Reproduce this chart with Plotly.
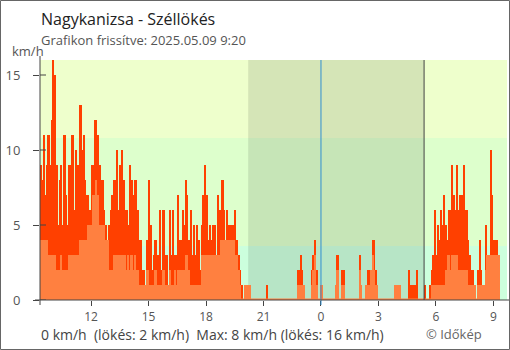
import plotly.graph_objects as go
import pandas as pd

# ---- data (5-minute slots starting 2025-05-08 09:20) ----
start_time = "2025-05-08 09:20"
end_time = "2025-05-09 09:42:40"
slot_minutes = 5

gust = [
    9, 8, 11, 7, 9, 11, 9, 12, 16, 15,
    9, 5, 8, 9, 5, 11, 7, 5, 9, 9,
    11, 6, 10, 9, 9, 13, 10, 11, 8, 7,
    7, 6, 9, 9, 12, 12, 11, 9, 8, 8,
    6, 5, 4, 5, 6, 7, 8, 8, 10, 6,
    9, 10, 8, 6, 6, 5, 9, 8, 7, 8,
    8, 6, 4, 4, 2, 2, 1, 4, 8, 5,
    2, 3, 4, 3, 3, 6, 2, 6, 3, 3,
    1, 6, 3, 6, 3, 3, 7, 4, 4, 6,
    5, 8, 7, 4, 6, 3, 5, 3, 5, 4,
    2, 5, 7, 9, 7, 4, 5, 4, 5, 5,
    3, 7, 6, 6, 8, 6, 4, 6, 5, 5,
    5, 5, 6, 4, 3, 2, 1, 0, 1, 1,
    1, 1, 0, 0, 0, 0, 0, 0, 0, 0,
    0, 0, 1, 0, 0, 0, 0, 0, 0, 0,
    0, 0, 0, 0, 0, 0, 0, 0, 0, 0,
    0, 2, 2, 3, 2, 1, 0, 0, 0, 0,
    2, 3, 4, 2, 0, 0, 1, 0, 0, 0,
    0, 0, 0, 0, 0, 1, 3, 0, 0, 2,
    2, 0, 0, 0, 0, 0, 0, 0, 0, 0,
    3, 1, 0, 0, 1, 2, 2, 2, 4, 4,
    2, 1, 0, 0, 0, 0, 0, 0, 0, 0,
    0, 0, 1, 1, 1, 1, 0, 0, 0, 0,
    0, 2, 1, 1, 1, 1, 2, 0, 0, 0,
    0, 1, 0, 0, 1, 2, 3, 6, 3, 5,
    4, 6, 5, 7, 5, 4, 6, 6, 9, 7,
    6, 9, 6, 7, 7, 9, 6, 6, 4, 3,
    2, 2, 1, 0, 2, 4, 2, 1, 1, 5,
    3, 3, 10, 7, 4, 4, 4, 3,
]

wind = [
    4, 4, 4, 4, 4, 3, 3, 3, 3, 3,
    2, 2, 2, 3, 2, 2, 2, 2, 3, 3,
    3, 3, 3, 3, 3, 4, 4, 4, 4, 4,
    5, 5, 5, 7, 7, 8, 7, 5, 5, 5,
    5, 4, 4, 2, 2, 2, 3, 3, 3, 3,
    3, 3, 3, 3, 2, 3, 2, 3, 2, 3,
    2, 2, 1, 1, 1, 1, 1, 2, 1, 1,
    1, 1, 2, 1, 1, 1, 1, 2, 1, 1,
    1, 2, 1, 1, 2, 1, 2, 2, 2, 2,
    2, 3, 3, 2, 1, 1, 1, 1, 1, 1,
    1, 3, 3, 3, 3, 3, 3, 3, 3, 3,
    3, 3, 3, 4, 4, 4, 4, 4, 4, 4,
    4, 4, 3, 3, 2, 1, 0, 0, 1, 1,
    1, 1, 0, 0, 0, 0, 0, 0, 0, 0,
    0, 0, 0, 0, 0, 0, 0, 0, 0, 0,
    0, 0, 0, 0, 0, 0, 0, 0, 0, 0,
    0, 1, 1, 1, 1, 1, 0, 0, 0, 0,
    1, 2, 3, 1, 0, 0, 1, 0, 0, 0,
    0, 0, 0, 0, 0, 1, 2, 0, 0, 1,
    1, 0, 0, 0, 0, 0, 0, 0, 0, 0,
    2, 1, 0, 0, 1, 1, 1, 2, 3, 2,
    1, 1, 0, 0, 0, 0, 0, 0, 0, 0,
    0, 0, 1, 1, 1, 1, 0, 0, 0, 0,
    0, 0, 0, 0, 0, 0, 0, 0, 0, 0,
    0, 0, 0, 0, 0, 1, 1, 1, 1, 1,
    1, 1, 1, 1, 2, 3, 3, 2, 3, 3,
    3, 3, 2, 2, 2, 2, 2, 2, 1, 1,
    1, 1, 1, 0, 1, 1, 1, 1, 1, 2,
    3, 3, 3, 3, 3, 3, 3, 3,
]

tick_hours = [12, 15, 18, 21, 0, 3, 6, 9]
y_ticks = [0, 5, 10, 15]
band_edges = [0, 3.6, 10.8, 16]
band_colors = ["#ccffdd", "#ddffcc", "#eeffcc"]
night_start = "2025-05-08 20:12"
night_end = "2025-05-09 05:23"
midnight = "2025-05-09 00:00"

title = "Nagykanizsa - Széllökés"
subtitle = "Grafikon frissítve: 2025.05.09 9:20"
unit = "km/h"
footer = "0 km/h\u00a0 (lökés: 2 km/h)\u00a0 Max: 8 km/h (lökés: 16 km/h)"
credit = "© Időkép"

# ---- build ----
times = pd.date_range(start_time, periods=len(gust), freq=f"{slot_minutes}min")
slot_ms = slot_minutes * 60 * 1000
day0 = pd.Timestamp(start_time).normalize()
tick_times = [day0 + pd.Timedelta(hours=h if h >= 10 else h + 24) for h in tick_hours]

W, H = 510, 350
ML, MR, MT, MB = 40, 3, 60, 50
PW, PH = W - ML - MR, H - MT - MB


def px(x):
    return (x - ML) / PW


def py(y):
    return (H - MB - y) / PH


fig = go.Figure()
fig.add_trace(go.Bar(x=times, y=gust, width=slot_ms, offset=0,
                     marker=dict(color="#ff4000", line=dict(width=0)), hoverinfo="skip"))
fig.add_trace(go.Bar(x=times, y=wind, width=slot_ms, offset=0,
                     marker=dict(color="#ff8040", line=dict(width=0)), hoverinfo="skip"))

shapes = []
for i, c in enumerate(band_colors):
    shapes.append(dict(type="rect", xref="paper", yref="y", x0=0, x1=1,
                       y0=band_edges[i], y1=band_edges[i + 1], fillcolor=c,
                       line=dict(width=0), layer="below"))
shapes.append(dict(type="rect", xref="x", yref="y", x0=night_start, x1=night_end,
                   y0=0, y1=16, fillcolor="rgba(0,0,0,0.10)", line=dict(width=0), layer="below"))
# baseline strip
shapes.append(dict(type="rect", xref="x", yref="y", x0=times[0], x1=times[-1] + pd.Timedelta(minutes=slot_minutes),
                   y0=0, y1=0.1, fillcolor="#ff8040", line=dict(width=0), layer="above"))
# midnight and sunrise lines
shapes.append(dict(type="line", xref="x", yref="paper", x0=midnight, x1=midnight,
                   y0=py(305), y1=1, line=dict(color="#2f8fd0", width=1), layer="above"))
shapes.append(dict(type="line", xref="x", yref="paper", x0=night_end, x1=night_end,
                   y0=0, y1=1, line=dict(color="#444444", width=1), layer="above"))
# axis lines
shapes.append(dict(type="line", xref="paper", yref="paper", x0=px(35), x1=px(510),
                   y0=0, y1=0, line=dict(color="#444444", width=1)))
shapes.append(dict(type="line", xref="paper", yref="paper", x0=0, x1=0,
                   y0=py(305), y1=py(56), line=dict(color="#444444", width=1)))
for v in y_ticks:
    shapes.append(dict(type="line", xref="paper", yref="y", x0=0, x1=6 / PW,
                       y0=v, y1=v, line=dict(color="#444444", width=1)))
# outer frame
shapes.append(dict(type="rect", xref="paper", yref="paper", x0=px(0.5), x1=px(509.5),
                   y0=py(349.5), y1=py(0.5), line=dict(color="#666666", width=1)))

annotations = [
    dict(text=title, x=px(39), y=py(18.5), xref="paper", yref="paper", xanchor="left",
         yanchor="middle", showarrow=False, font=dict(size=16, color="#222222")),
    dict(text=subtitle, x=px(39), y=py(40.5), xref="paper", yref="paper", xanchor="left",
         yanchor="middle", showarrow=False, font=dict(size=13, color="#555555")),
    dict(text=unit, x=px(27.5), y=py(50.5), xref="paper", yref="paper", xanchor="center",
         yanchor="middle", showarrow=False, font=dict(size=13, color="#555555")),
    dict(text=footer, x=px(39), y=py(334.5), xref="paper", yref="paper", xanchor="left",
         yanchor="middle", showarrow=False, font=dict(size=14, color="#444444")),
    dict(text=credit, x=px(424), y=py(333.5), xref="paper", yref="paper", xanchor="left",
         yanchor="middle", showarrow=False, font=dict(size=13, color="#666666")),
]

fig.update_layout(
    width=W, height=H,
    margin=dict(l=ML, r=MR, t=MT, b=MB, pad=0),
    paper_bgcolor="white", plot_bgcolor="white",
    font=dict(family="Open Sans", color="#555555"),
    barmode="overlay", bargap=0, showlegend=False,
    shapes=shapes, annotations=annotations,
    xaxis=dict(type="date", range=[start_time, end_time], tickvals=tick_times,
               ticktext=[str(h) for h in tick_hours], ticks="outside", ticklen=5,
               tickcolor="#444444", tickfont=dict(size=12, color="#555555"),
               ticklabelstandoff=1,
               showgrid=False, zeroline=False, showline=False, fixedrange=True),
    yaxis=dict(range=[0, 16], tickvals=y_ticks, ticks="outside", ticklen=6,
               tickcolor="#444444", tickfont=dict(size=13, color="#555555"),
               ticklabelstandoff=10, showgrid=False, zeroline=False, showline=False,
               fixedrange=True),
)

fig.write_html("out.html", config={"displayModeBar": False})
